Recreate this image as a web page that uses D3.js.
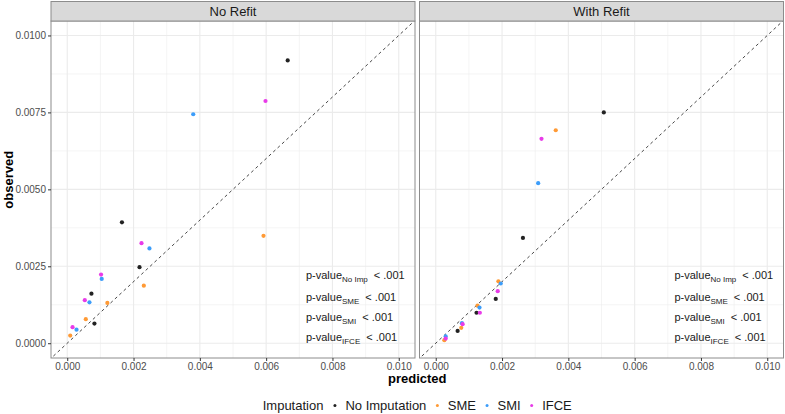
<!DOCTYPE html>
<html>
<head>
<meta charset="utf-8">
<script src="https://cdn.jsdelivr.net/npm/d3@7"></script>
<style>
  body { margin: 0; background: #fff; }
  text { font-family: "Liberation Sans", Arial, sans-serif; }
</style>
</head>
<body>
<svg id="chart" width="785" height="414"></svg>
<script>
// ---- data ----
const panels = ["No Refit", "With Refit"];
const imputations = ["No Imputation", "SME", "SMI", "IFCE"];

// [predicted, observed]
const noRefitNoImp  = [[0.00665, 0.00919], [0.00165, 0.00393], [0.00218, 0.00247], [0.00073, 0.00161], [0.00082, 0.00064]];
const noRefitSME    = [[0.00592, 0.00349], [0.00231, 0.00187], [0.00121, 0.00131], [0.00056, 0.00078], [0.00009, 0.00025]];
const noRefitSMI    = [[0.00380, 0.00744], [0.00248, 0.00308], [0.00104, 0.00209], [0.00067, 0.00133], [0.00028, 0.00044]];
const noRefitIFCE   = [[0.00598, 0.00787], [0.00224, 0.00325], [0.00102, 0.00223], [0.00053, 0.00140], [0.00016, 0.00052]];
const withRefitNoImp = [[0.00507, 0.00750], [0.00263, 0.00342], [0.00181, 0.00144], [0.00123, 0.00099], [0.00066, 0.00040]];
const withRefitSME   = [[0.00362, 0.00692], [0.00189, 0.00201], [0.00126, 0.00122], [0.00077, 0.00050], [0.00026, 0.00010]];
const withRefitSMI   = [[0.00309, 0.00520], [0.00196, 0.00194], [0.00132, 0.00116], [0.00079, 0.00065], [0.00030, 0.00022]];
const withRefitIFCE  = [[0.00319, 0.00664], [0.00187, 0.00169], [0.00133, 0.00099], [0.00081, 0.00062], [0.00030, 0.00015]];

const pLabels = ["No Imp", "SME", "SMI", "IFCE"];
const pValues = ["< .001", "< .001", "< .001", "< .001"];
const pY = [0.0022, 0.0015, 0.00085, 0.0002];
const pX = 0.0072;

const xTicks = [0, 0.002, 0.004, 0.006, 0.008, 0.010];
const yTicks = [0, 0.0025, 0.005, 0.0075, 0.010];
const xMinor = [0.001, 0.003, 0.005, 0.007, 0.009];
const yMinor = [0.00125, 0.00375, 0.00625, 0.00875];

const panelData = [
  [noRefitNoImp, noRefitSME, noRefitSMI, noRefitIFCE],
  [withRefitNoImp, withRefitSME, withRefitSMI, withRefitIFCE]
];

// ---- layout ----
const colors = ["#222222", "#FF9A35", "#3C9DFA", "#E83BE8"];
const svg = d3.select("#chart");
const panelLefts = [51, 419.5],
    panelW = 364,
    stripTop = 1.5,
    panelTop = 21,
    panelBottom = 358;

const x = d3.scaleLinear().domain([-0.00049, 0.01049]).range([0, panelW]);
const y = d3.scaleLinear().domain([-0.00048, 0.01047]).range([panelBottom - panelTop, 0]);
const ph = panelBottom - panelTop;

panels.forEach((name, pi) => {
  const g = svg.append("g").attr("transform", `translate(${panelLefts[pi]},${panelTop})`);

  // clip
  svg.append("clipPath").attr("id", "clip" + pi)
    .append("rect").attr("width", panelW).attr("height", ph);

  // grid
  g.selectAll(".minx").data(xMinor).enter().append("line")
    .attr("x1", d => x(d)).attr("x2", d => x(d)).attr("y1", 0).attr("y2", ph)
    .attr("stroke", "#EBEBEB").attr("stroke-width", 0.55);
  g.selectAll(".miny").data(yMinor).enter().append("line")
    .attr("y1", d => y(d)).attr("y2", d => y(d)).attr("x1", 0).attr("x2", panelW)
    .attr("stroke", "#EBEBEB").attr("stroke-width", 0.55);
  g.selectAll(".majx").data(xTicks).enter().append("line")
    .attr("x1", d => x(d)).attr("x2", d => x(d)).attr("y1", 0).attr("y2", ph)
    .attr("stroke", "#EBEBEB").attr("stroke-width", 1.1);
  g.selectAll(".majy").data(yTicks).enter().append("line")
    .attr("y1", d => y(d)).attr("y2", d => y(d)).attr("x1", 0).attr("x2", panelW)
    .attr("stroke", "#EBEBEB").attr("stroke-width", 1.1);

  // y = x reference line
  const lo = Math.max(x.domain()[0], y.domain()[0]) - 0.001,
      hi = Math.min(x.domain()[1], y.domain()[1]) + 0.001;
  g.append("line")
    .attr("clip-path", `url(#clip${pi})`)
    .attr("x1", x(lo)).attr("y1", y(lo)).attr("x2", x(hi)).attr("y2", y(hi))
    .attr("stroke", "#333").attr("stroke-width", 0.9)
    .attr("stroke-dasharray", "3,3");

  // points
  panelData[pi].forEach((series, si) => {
    g.selectAll(null).data(series).enter().append("circle")
      .attr("cx", d => x(d[0]))
      .attr("cy", d => y(d[1]))
      .attr("r", 2.1)
      .attr("fill", colors[si]);
  });

  // p-value annotations
  pLabels.forEach((lab, i) => {
    const t = g.append("text")
      .attr("x", x(pX)).attr("y", y(pY[i]))
      .attr("dy", "0.35em")
      .style("font-size", "11px")
      .attr("fill", "#1a1a1a");
    t.append("tspan").text("p-value");
    t.append("tspan").attr("dy", 3).style("font-size", "8px").text(lab);
    t.append("tspan").attr("dy", -3).attr("dx", 6).text(pValues[i]);
  });

  // panel border
  g.append("rect").attr("width", panelW).attr("height", ph)
    .attr("fill", "none").attr("stroke", "#8c8c8c").attr("stroke-width", 1);

  // strip
  const s = svg.append("g").attr("transform", `translate(${panelLefts[pi]},${stripTop})`);
  s.append("rect").attr("width", panelW).attr("height", panelTop - stripTop)
    .attr("fill", "#D9D9D9").attr("stroke", "#8c8c8c").attr("stroke-width", 1);
  s.append("text")
    .attr("x", panelW / 2).attr("y", (panelTop - stripTop) / 2)
    .attr("dy", "0.36em")
    .attr("text-anchor", "middle")
    .style("font-size", "13px")
    .attr("fill", "#1a1a1a")
    .text(name);

  // x axis
  const xa = g.append("g").attr("transform", `translate(0,${ph})`)
    .call(d3.axisBottom(x).tickValues(xTicks).tickFormat(d3.format(".3f")).tickSize(3).tickPadding(2));
  xa.select(".domain").remove();
  xa.selectAll("line").attr("stroke", "#333");
  xa.selectAll("text").attr("fill", "#4D4D4D").style("font-size", "10px")
    .style("font-family", "'Liberation Sans', Arial, sans-serif");

  // y axis only on first panel
  if (pi === 0) {
    const ya = g.append("g")
      .call(d3.axisLeft(y).tickValues(yTicks).tickFormat(d3.format(".4f")).tickSize(3).tickPadding(2));
    ya.select(".domain").remove();
    ya.selectAll("line").attr("stroke", "#333");
    ya.selectAll("text").attr("fill", "#4D4D4D").style("font-size", "10px")
      .style("font-family", "'Liberation Sans', Arial, sans-serif");
  }
});

// axis titles
svg.append("text")
  .attr("x", (panelLefts[0] + panelLefts[1] + panelW) / 2)
  .attr("y", 383)
  .attr("text-anchor", "middle")
  .style("font-size", "13px").style("font-weight", "bold")
  .text("predicted");

svg.append("text")
  .attr("transform", `translate(13,${(stripTop + panelBottom) / 2}) rotate(-90)`)
  .attr("text-anchor", "middle")
  .style("font-size", "13px").style("font-weight", "bold")
  .text("observed");

// legend
const leg = svg.append("g");
const title = leg.append("text").attr("x", 0).style("font-size", "13px").attr("fill", "#1a1a1a").text("Imputation");
let cx = title.node().getComputedTextLength() + 11.5;
imputations.forEach((lab, i) => {
  leg.append("circle").attr("cx", cx).attr("cy", -4.5).attr("r", 1.5).attr("fill", colors[i]);
  const t = leg.append("text").attr("x", cx + 10.5).style("font-size", "13px").attr("fill", "#1a1a1a").text(lab);
  cx += 10.5 + t.node().getComputedTextLength() + 11;
});
const legW = cx - 11;
const legCenter = (panelLefts[0] + panelLefts[1] + panelW) / 2;
leg.attr("transform", `translate(${legCenter - legW / 2},410)`);
</script>
</body>
</html>
